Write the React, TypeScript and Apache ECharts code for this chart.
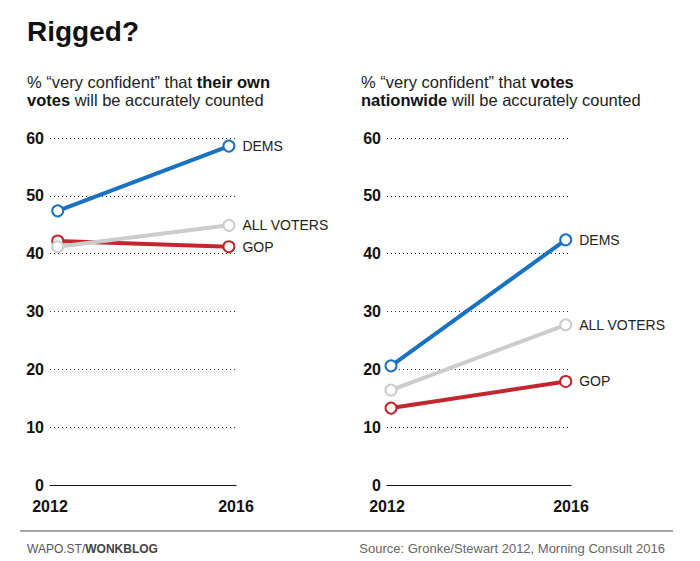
import React, { useEffect, useRef } from "react";
import * as echarts from "echarts";

const years = ["2012", "2016"];
const yearValues = [2012, 2016];
const seriesNames = ["GOP", "ALL VOTERS", "DEMS"];
const ownVotes = {
  DEMS: [47.4, 58.6],
  "ALL VOTERS": [41.2, 44.9],
  GOP: [42.2, 41.2],
};
const nationwide = {
  DEMS: [20.6, 42.4],
  "ALL VOTERS": [16.4, 27.7],
  GOP: [13.3, 17.9],
};
const colors: Record<string, string> = {
  DEMS: "#1871c1",
  "ALL VOTERS": "#cccccc",
  GOP: "#c1272d",
};

const FONT = "'Liberation Sans', Arial, sans-serif";

export default function App() {
  const ref = useRef<HTMLDivElement>(null);
  useEffect(() => {
    if (!ref.current) return;
    const chart = echarts.init(ref.current, null, { renderer: "svg" });
    const grids = [
      { left: 50, width: 186, top: 138, height: 347 },
      { left: 387, width: 184, top: 138, height: 347 },
    ];
    const ranges = [
      [2011.82, 2016.166],
      [2011.908, 2016.121],
    ];
    const xAxis: any[] = [];
    const yAxis: any[] = [];
    grids.forEach((g, i) => {
      xAxis.push({
        type: "category",
        gridIndex: i,
        data: years,
        boundaryGap: false,
        axisLine: { show: true, lineStyle: { color: "#111", width: 1.2 } },
        axisTick: { show: false },
        axisLabel: {
          color: "#111",
          fontFamily: FONT,
          fontWeight: "bold",
          fontSize: 16,
          margin: 13,
        },
        splitLine: { show: false },
        z: 3,
      });
      yAxis.push({
        type: "value",
        gridIndex: i,
        min: 0,
        max: 60,
        interval: 10,
        axisLine: { show: false },
        axisTick: { show: false },
        axisLabel: {
          color: "#111",
          fontFamily: FONT,
          fontWeight: "bold",
          fontSize: 16,
          margin: 6,
        },
        splitLine: {
          show: true,
          lineStyle: { color: "#333", type: [1, 3], width: 1 },
        },
      });
    });
    grids.forEach((g, i) => {
      xAxis.push({
        type: "value",
        gridIndex: i,
        min: ranges[i][0],
        max: ranges[i][1],
        show: false,
      });
    });
    const series: any[] = [];
    [ownVotes, nationwide].forEach((d: any, i) => {
      seriesNames.forEach((name, j) => {
        series.push({
          type: "line",
          name,
          xAxisIndex: 2 + i,
          yAxisIndex: i,
          data: yearValues.map((y, k) => [y, d[name][k]]),
          lineStyle: { color: colors[name], width: 4 },
          itemStyle: { color: "#fff", borderColor: colors[name], borderWidth: 2 },
          symbol: "circle",
          symbolSize: 11,
          showAllSymbol: true,
          z: 4 + j,
          label: {
            show: true,
            position: "right",
            distance: 7,
            color: "#222",
            fontFamily: FONT,
            fontSize: 14,
            formatter: (p: any) => (p.dataIndex === 1 ? name : ""),
          },
        });
      });
    });
    chart.setOption({
      animation: false,
      backgroundColor: "#ffffff",
      grid: grids,
      xAxis,
      yAxis,
      series,
      graphic: [
        {
          type: "text",
          left: 27,
          top: 17,
          style: {
            text: "Rigged?",
            font: `bold 28px ${FONT}`,
            fill: "#111",
          },
        },
        {
          type: "text",
          left: 27,
          top: 73,
          style: {
            text: "% \u201cvery confident\u201d that {b|their own}\n{b|votes} will be accurately counted",
            font: `16.5px ${FONT}`,
            fill: "#222",
            lineHeight: 18,
            rich: {
              b: { font: `bold 16.5px ${FONT}`, fill: "#111", lineHeight: 18 },
            },
          },
        },
        {
          type: "text",
          left: 361,
          top: 73,
          style: {
            text: "% \u201cvery confident\u201d that {b|votes}\n{b|nationwide} will be accurately counted",
            font: `16.5px ${FONT}`,
            fill: "#222",
            lineHeight: 18,
            rich: {
              b: { font: `bold 16.5px ${FONT}`, fill: "#111", lineHeight: 18 },
            },
          },
        },
        {
          type: "line",
          shape: { x1: 20, y1: 531, x2: 673, y2: 531 },
          style: { stroke: "#8a8a8a", lineWidth: 1.5 },
        },
        {
          type: "text",
          left: 27,
          top: 543,
          style: {
            text: "WAPO.ST/{b|WONKBLOG}",
            font: `12px ${FONT}`,
            fill: "#555",
            rich: { b: { font: `bold 12px ${FONT}`, fill: "#444" } },
          },
        },
        {
          type: "text",
          right: 35,
          top: 542,
          style: {
            text: "Source: Gronke/Stewart 2012, Morning Consult 2016",
            font: `13px ${FONT}`,
            fill: "#666",
          },
        },
      ],
    });
    return () => chart.dispose();
  }, []);
  return (
    <div
      ref={ref}
      style={{ position: "absolute", left: 0, top: 0, width: 700, height: 561 }}
    />
  );
}
